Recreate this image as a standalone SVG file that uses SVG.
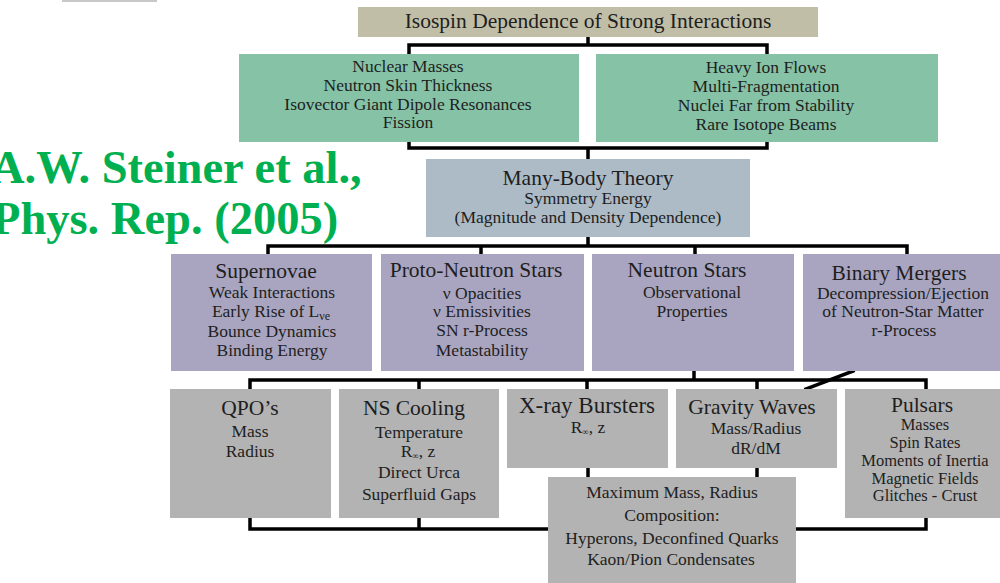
<svg xmlns="http://www.w3.org/2000/svg" width="1000" height="583" viewBox="0 0 1000 583">
<style>
.t{font-family:"Liberation Serif","Times New Roman",serif;fill:#1e1e1e;text-anchor:middle}
.h{font-size:21.5px}
.s{font-size:17.5px}
.p{font-size:16.5px}
.cite{font-family:"Liberation Serif","Times New Roman",serif;font-weight:bold;font-size:46.5px;fill:#00b050}
.c{fill:none;stroke:#000;stroke-width:3.5;stroke-linecap:square;stroke-linejoin:miter}
.tan{fill:#c1bea7}.grn{fill:#86c2a6}.blu{fill:#adbbc6}.pur{fill:#a9a5c0}.gry{fill:#b3b3b3}
</style>
<rect x="62" y="0" width="95" height="2" fill="#c8c8c8"/>
<g id="connectors">
<path class="c" d="M588,37 V45 M409,54 V45 H767 V54"/>
<path class="c" d="M409,142 V148 H767 V142 M588,148 V159"/>
<path class="c" d="M588,237 V246 M268,254 V246 H907 V254 M481,246 V254 M695,246 V254"/>
<path class="c" d="M694,371 V380 M250,389 V380 H926 V389 M419,380 V389 M587,380 V389 M757,380 V389"/>
<path class="c" d="M853,371 L806,389"/>
<path class="c" d="M588,468 V477 M757,468 V477"/>
<path class="c" d="M250,518 V529 H926 V518 M419,518 V529"/>
</g>
<g id="title">
<rect class="tan" x="358" y="7" width="460" height="30"/>
<text class="t h" x="588" y="28">Isospin Dependence of Strong Interactions</text>
</g>
<g id="nuclear">
<rect class="grn" x="239" y="54" width="340" height="88"/>
<text class="t s" x="408" y="72">Nuclear Masses</text>
<text class="t s" x="408" y="91">Neutron Skin Thickness</text>
<text class="t s" x="408" y="110">Isovector Giant Dipole Resonances</text>
<text class="t s" x="408" y="128">Fission</text>
</g>
<g id="heavyion">
<rect class="grn" x="596" y="54" width="342" height="88"/>
<text class="t s" x="766" y="73">Heavy Ion Flows</text>
<text class="t s" x="766" y="92">Multi-Fragmentation</text>
<text class="t s" x="766" y="111">Nuclei Far from Stability</text>
<text class="t s" x="766" y="130">Rare Isotope Beams</text>
</g>
<g id="manybody">
<rect class="blu" x="426" y="159" width="324" height="78"/>
<text class="t h" x="588" y="185">Many-Body Theory</text>
<text class="t s" x="588" y="204">Symmetry Energy</text>
<text class="t s" x="588" y="223">(Magnitude and Density Dependence)</text>
</g>
<g id="citation">
<text class="cite" x="-9" y="183">A.W. Steiner et al.,</text>
<text class="cite" x="-8" y="234">Phys. Rep. (2005)</text>
</g>
<g id="supernovae">
<rect class="pur" x="171" y="254" width="201" height="117"/>
<text class="t h" x="266" y="278">Supernovae</text>
<text class="t s" x="272" y="298">Weak Interactions</text>
<text class="t s" x="271" y="317">Early Rise of L<tspan font-size="12" dy="3">νe</tspan></text>
<text class="t s" x="272" y="337">Bounce Dynamics</text>
<text class="t s" x="272" y="356">Binding Energy</text>
</g>
<g id="protoneutron">
<rect class="pur" x="381" y="254" width="203" height="117"/>
<text class="t h" x="476" y="277">Proto-Neutron Stars</text>
<text class="t s" x="482" y="299">ν Opacities</text>
<text class="t s" x="482" y="317">ν Emissivities</text>
<text class="t s" x="482" y="336">SN r-Process</text>
<text class="t s" x="482" y="356">Metastability</text>
</g>
<g id="neutronstars">
<rect class="pur" x="592" y="254" width="202" height="117"/>
<text class="t h" x="687" y="277">Neutron Stars</text>
<text class="t s" x="692" y="298">Observational</text>
<text class="t s" x="692" y="317">Properties</text>
</g>
<g id="binary">
<rect class="pur" x="803" y="254" width="210" height="117"/>
<text class="t h" x="899" y="280">Binary Mergers</text>
<text class="t s" x="903" y="299">Decompression/Ejection</text>
<text class="t s" x="903" y="317">of Neutron-Star Matter</text>
<text class="t s" x="904" y="336">r-Process</text>
</g>
<g id="qpo">
<rect class="gry" x="170" y="389" width="161" height="129"/>
<text class="t h" x="250" y="415">QPO’s</text>
<text class="t s" x="250" y="437">Mass</text>
<text class="t s" x="250" y="457">Radius</text>
</g>
<g id="cooling">
<rect class="gry" x="339" y="389" width="160" height="129"/>
<text class="t h" x="414" y="415">NS Cooling</text>
<text class="t s" x="419" y="438">Temperature</text>
<text class="t s" x="418" y="457">R<tspan font-size="9" dy="2">∞</tspan><tspan dy="-2">, z</tspan></text>
<text class="t s" x="419" y="478">Direct Urca</text>
<text class="t s" x="419" y="500">Superfluid Gaps</text>
</g>
<g id="xray">
<rect class="gry" x="507" y="389" width="161" height="79"/>
<text class="t" font-size="23" x="587" y="413">X-ray Bursters</text>
<text class="t s" x="588" y="433">R<tspan font-size="9" dy="2">∞</tspan><tspan dy="-2">, z</tspan></text>
</g>
<g id="gravity">
<rect class="gry" x="676" y="389" width="161" height="79"/>
<text class="t h" x="752" y="414">Gravity Waves</text>
<text class="t s" x="756" y="434">Mass/Radius</text>
<text class="t s" x="756" y="454">dR/dM</text>
</g>
<g id="pulsars">
<rect class="gry" x="845" y="389" width="160" height="129"/>
<text class="t h" x="922" y="412">Pulsars</text>
<text class="t p" x="925" y="430">Masses</text>
<text class="t p" x="925" y="448">Spin Rates</text>
<text class="t p" x="925" y="466">Moments of Inertia</text>
<text class="t p" x="925" y="484">Magnetic Fields</text>
<text class="t p" x="925" y="501">Glitches - Crust</text>
</g>
<g id="maxmass">
<rect class="gry" x="548" y="477" width="248" height="106"/>
<text class="t s" x="672" y="498">Maximum Mass, Radius</text>
<text class="t s" x="672" y="521">Composition:</text>
<text class="t s" x="672" y="544">Hyperons, Deconfined Quarks</text>
<text class="t s" x="671" y="565">Kaon/Pion Condensates</text>
</g>
</svg>
